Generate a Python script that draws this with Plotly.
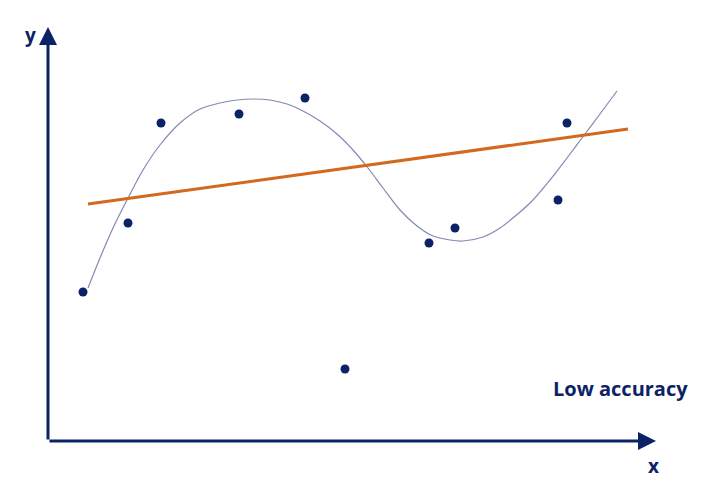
import plotly.graph_objects as go

# data points (arbitrary units)
pts_x = [35, 80, 113, 191, 257, 297, 381, 407, 510, 519]
pts_y = [149, 218, 318, 327, 343, 72, 198, 213, 241, 318]

# overfitted smooth curve
curve_x = [40, 52, 65, 80, 95, 112, 132, 152, 172, 189, 205, 222, 239, 255, 272, 289,
           305, 320, 335, 352, 369, 385, 402, 415, 435, 452, 482, 502, 519, 537, 552, 569]
curve_y = [153, 183, 213, 243, 271, 296, 318, 332, 338, 341, 342, 341, 337, 330, 320, 307,
           291, 273, 253, 231, 215, 205, 201, 200, 204, 213, 238, 261, 283, 307, 327, 350]

# linear fit line
line_x = [40, 580]
line_y = [237, 312]

navy = "#0B2366"
fig = go.Figure()
fig.add_trace(go.Scatter(x=curve_x, y=curve_y, mode="lines",
                         line=dict(color="#8389B3", width=1.2, shape="spline", smoothing=0.8),
                         hoverinfo="skip"))
fig.add_trace(go.Scatter(x=line_x, y=line_y, mode="lines",
                         line=dict(color="#D2691E", width=3), hoverinfo="skip"))
fig.add_trace(go.Scatter(x=pts_x, y=pts_y, mode="markers",
                         marker=dict(color=navy, size=9), hoverinfo="skip"))

XMAX, YMAX = 608, 414
fig.update_layout(
    width=711, height=479,
    margin=dict(l=40, r=63, t=19, b=46),
    paper_bgcolor="white", plot_bgcolor="white",
    showlegend=False,
    xaxis=dict(range=[0, XMAX], visible=False, fixedrange=True),
    yaxis=dict(range=[0, YMAX], visible=False, fixedrange=True),
    font=dict(family="Open Sans", color=navy),
)
# axes with arrows
fig.add_annotation(x=XMAX, y=0, ax=0, ay=0, xref="x", yref="y", axref="x", ayref="y",
                   showarrow=True, arrowhead=2, arrowsize=1.2, arrowwidth=3, arrowcolor=navy,
                   text="", standoff=0, startstandoff=0)
fig.add_annotation(x=0, y=YMAX, ax=0, ay=0, xref="x", yref="y", axref="x", ayref="y",
                   showarrow=True, arrowhead=2, arrowsize=1.2, arrowwidth=3, arrowcolor=navy,
                   text="", standoff=0, startstandoff=0)
fig.add_annotation(x=-18 / XMAX, y=406 / YMAX, xref="paper", yref="paper", text="<b>y</b>",
                   xanchor="center", yanchor="middle",
                   showarrow=False, font=dict(size=19, color=navy))
fig.add_annotation(x=605 / XMAX, y=-25 / YMAX, xref="paper", yref="paper", text="<b>x</b>",
                   xanchor="center", yanchor="middle",
                   showarrow=False, font=dict(size=19, color=navy))
fig.add_annotation(x=642 / XMAX, y=53 / YMAX, xref="paper", yref="paper",
                   text="<b>Low accuracy</b>", showarrow=False,
                   xanchor="right", yanchor="middle", font=dict(size=20, color=navy))

fig.write_html("out.html")
